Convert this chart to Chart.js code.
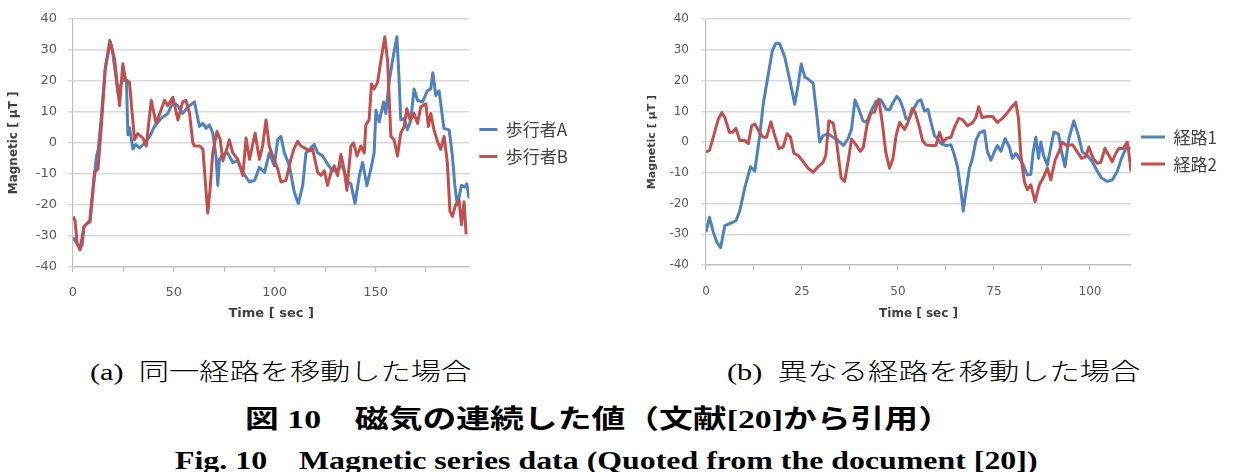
<!DOCTYPE html>
<html>
<head>
<meta charset="utf-8">
<script src="https://cdn.jsdelivr.net/npm/chart.js@4"></script>
<style>
  body { margin: 0; background: #fff; }
  #page { position: relative; width: 1234px; height: 472px; overflow: hidden; background: #fff; }
  canvas { position: absolute; top: 0; }
  #chartA { left: 0; }
  #chartB { left: 600px; }
  .cap { position: absolute; white-space: pre; color: #000; transform-origin: 0 0; transform: scaleX(1.26); }
  .sub { font: 300 24px/24px 'Liberation Serif', 'Noto Sans CJK JP', serif; top: 360px; }
  .ja { font: bold 26px/26px 'Liberation Serif', 'Noto Sans CJK JP', serif; top: 407px; left: 245px; transform: scaleX(1.3); }
  .en { font: bold 25px/25px 'Liberation Serif', serif; top: 448px; left: 175px; transform: scaleX(1.275); }
</style>
</head>
<body>
<div id="page">
  <canvas id="chartA" width="600" height="330"></canvas>
  <canvas id="chartB" width="634" height="330"></canvas>
  <div class="cap sub" style="left:90px">(a)  同一経路を移動した場合</div>
  <div class="cap sub" style="left:727px">(b)  異なる経路を移動した場合</div>
  <div class="cap ja">図 10　磁気の連続した値（文献[20]から引用）</div>
  <div class="cap en">Fig. 10　Magnetic series data (Quoted from the document [20])</div>
</div>
<script>
"use strict";

// (a) same route, two walkers
const walkerATime = [0, 1.5, 3.3, 4.5, 5.5, 7, 8.5, 10, 11.5, 12.5, 14, 16, 18.2, 19.5, 21.5, 22.3, 24.7, 26.5, 27.2, 28,
    29.7, 31, 33, 35, 38, 40.4, 43.7, 47, 49.5, 52, 54.4, 57, 60.2, 62.7, 64.4, 66, 67.6, 69.3, 70.9, 71.8,
    72.6, 74.3, 76.7, 79.2, 81.7, 84.2, 87.5, 90, 92.4, 95, 97.3, 99.8, 101.5, 103.1, 104.8, 107.3, 109.7, 111.7, 113.9, 115.5,
    118, 119.6, 121.3, 123.8, 126.2, 128.7, 131.2, 133.6, 136.1, 137.8, 139.8, 142, 143.6, 145.7, 147.7, 149.3, 150.2, 151.8, 154, 155.1,
    156.8, 158.9, 160.6, 161.7, 162.5, 164.2, 165.8, 167.5, 169.1, 170.8, 173.3, 175.7, 177.4, 178.4, 179.9, 181.5, 183.9, 186.5, 188.1, 189.3,
    190.6, 192.6, 194.2, 195.2, 196.4];
const walkerAValue = [-30.5, -32, -34, -33, -27, -26, -25.5, -15, -5, -2, 8, 24, 33, 30, 20, 16, 20.5, 20, 2.6, 5,
    -2, -0.5, -1.6, -0.5, 2, 5.3, 7.9, 9.5, 13, 12, 9.5, 11.6, 13.2, 5.3, 6.3, 4.7, 5.8, 3.2, -4.2, -13.7,
    -5.3, -3.7, -3.2, -6.3, -5.8, -9.5, -12.6, -12.1, -7.9, -9.5, -3.2, -7.4, 1, 2.1, -3.2, -7.4, -15.8, -19.5, -13.7, -3.2,
    -1.6, -0.5, -3.2, -4.2, -6.8, -9, -8.4, -7.4, -12.6, -13.2, -19.5, -10.5, -6.3, -13.7, -8.4, -3.2, 10.5, 6.8, 13.2, 9.5,
    20, 28.4, 34.2, 20, 7.4, 7.9, 4.2, 7.4, 17.4, 13.7, 13.2, 16.8, 17.4, 22.6, 15.3, 16.8, 4.7, 4.2, -4.2, -13.7,
    -20, -13.7, -14.2, -13.2, -17.9];

const walkerBTime = [0, 1, 2, 3.5, 5.4, 8.3, 10.7, 12.4, 14, 16, 18.5, 20.6, 23.1, 24.7, 26, 28, 30.5, 32, 34.6, 36.3,
    38.8, 41.2, 45.4, 47, 49.5, 52, 54.4, 56, 57.8, 59.4, 60.2, 62.7, 64.4, 65.5, 66.8, 68, 69.3, 71.4, 73, 74.3,
    76.4, 77.5, 79.2, 81.7, 84.2, 85.8, 87.5, 90.3, 92.4, 94, 95.7, 97.3, 99, 101.5, 103.1, 105.6, 108, 109.7, 111.4, 113,
    114.7, 117.2, 118.8, 121.3, 123, 124.6, 126.2, 127.9, 129.5, 131.2, 132.8, 134.4, 135.8, 137.8, 139.1, 140.8, 142.7, 144.4, 145.2, 146.8,
    148, 149.3, 151, 152.6, 154.6, 156, 156.8, 157.6, 159.2, 160.9, 162.5, 164.2, 165.5, 167.2, 169.1, 170.8, 172.4, 174.9, 176.2, 177.4,
    179, 180.7, 182.3, 184, 185.6, 186.9, 188.1, 189.7, 191.4, 192.6, 193.9, 194.9];
const walkerBValue = [-23.7, -25, -32, -34.5, -27, -25, -9.5, -8.4, 5, 24, 32.6, 27, 12, 25.5, 20.5, 19.5, 1, 3, 1.6, -1,
    13.7, 6.3, 13.7, 12, 14.7, 7.4, 13.2, 13.7, 9.5, 0, -1, -1, -2, -11.6, -22.6, -14.7, -3, 3.7, 1, -5.8,
    -1.6, 1, -3.2, -5.3, -10.5, 1.6, -5.3, 3.2, -5.3, -1, 7.4, -1, -4.2, -8.4, -12.6, -12.1, -5.3, -1.6, 0.5, -1,
    -1.6, -2.6, -2, -9.5, -10.5, -9, -13.7, -9.5, -7.4, -10.5, -3.7, -8.4, -15.3, -1, 0, -4.2, -1, -3.2, 5.8, 7.4,
    19, 17.4, 19.5, 26.3, 34.2, 26.3, 13.7, 2.1, 1, -4.2, 3.2, 5.3, 11, 7.4, 9.5, 6.3, 11.6, 12.6, 5.3, 9.5,
    4.2, 0.5, -2.1, 2.1, -6.3, -22.1, -23.7, -20, -18.4, -26.3, -19, -29.5];

// (b) two different routes
const route1Time = [0, 0.9, 1.9, 2.8, 3.8, 4.9, 6.2, 7.8, 8.8, 10.1, 11.6, 12.7, 14, 14.9, 16.2, 17.3, 18.2, 19.2, 20.5, 21.8,
    23.1, 24, 24.8, 25.7, 26.6, 27.9, 28.7, 29.6, 30.5, 31.8, 33.1, 34.4, 35.8, 37, 37.9, 38.8, 39.8, 40.9, 41.8, 43,
    44.3, 45.6, 46.9, 47.8, 48.7, 49.7, 50.5, 51.4, 52.1, 53, 54, 55.2, 56, 56.9, 57.8, 58.6, 59.5, 60.3, 61.2, 62.5,
    63.8, 64.7, 65.5, 66.4, 67, 67.7, 68.6, 69.4, 70.3, 71.2, 72.5, 73.3, 74.2, 75.1, 75.9, 76.8, 77.9, 79, 79.8, 80.7,
    81.6, 82.4, 83.7, 84.6, 85.2, 85.9, 86.6, 87.2, 87.9, 88.9, 89.8, 90.6, 91.8, 92.6, 93.5, 94.5, 95.8, 97, 98, 99.3,
    100.6, 101.9, 103, 104.5, 105.8, 107.1, 108.2, 109.3, 110.6];
const route1Value = [-29.3, -24.5, -29.3, -32.5, -34.4, -27.2, -26.5, -25.6, -22.4, -14.9, -8, -9.4, 2.1, 12.3, 21.9, 29.9, 32.2, 32, 27.7, 20.3,
    12.3, 18.7, 25.4, 21.3, 20.5, 19.2, 10.7, 0, 2.1, 2.7, 1.6, 0.5, -1.1, 1.1, 4.3, 13.7, 10.7, 6.9, 6.4, 10.1,
    13.3, 13.7, 10.7, 10.5, 12.8, 14.9, 13.7, 10.7, 7.5, 7.7, 10.7, 13.3, 13.7, 10.1, 10.7, 6.4, 2.1, 1.1, -0.5, -1.1,
    -0.9, -4.3, -8, -16, -22.4, -16, -8.5, -5.3, 0.5, 3, 3.7, -3.2, -5.9, -3.2, -1.1, -3, 1.1, -1.6, -5.3, -3.7,
    -5.3, -6.9, -10.7, -10.5, -3.2, 1.6, -5.3, 0, -4.3, -7.5, -1.6, 3.2, 2.7, -3.2, -8, 1.1, 6.9, 2.1, -3.2, -4.3,
    -6.4, -9.4, -11.7, -12.8, -12.3, -9.6, -5.3, -2.1, -1.9];

const route2Time = [0, 0.9, 1.9, 3.2, 4.1, 4.9, 6.1, 6.9, 7.8, 8.8, 10.1, 11, 11.9, 12.7, 14, 14.9, 15.8, 16.9, 17.9, 19,
    20.1, 21.1, 22, 22.9, 24, 25.3, 26.6, 27.9, 29.2, 30.5, 31.2, 32, 33.1, 33.9, 35.2, 36.1, 37, 37.9, 39.1, 40.2,
    41, 41.9, 43, 43.9, 45, 45.9, 46.8, 47.8, 48.7, 49.5, 50.4, 51.7, 52.6, 53.7, 54.5, 55.6, 56.4, 57.3, 58.6, 59.9,
    60.8, 61.7, 62.7, 63.8, 64.7, 65.8, 66.8, 68.1, 69.3, 70.3, 71, 71.9, 73.3, 74.6, 75.9, 77.2, 78.5, 79.8, 80.7, 81.4,
    82, 82.9, 83.7, 84.6, 85.7, 86.8, 87.8, 88.9, 89.8, 90.9, 91.9, 92.8, 93.9, 95.5, 96.7, 97.8, 98.9, 99.7, 100.8, 101.9,
    102.8, 103.9, 104.9, 105.8, 106.7, 107.5, 108.6, 109.7, 110.1, 110.7];
const route2Value = [-3.2, -2.7, 1.6, 7.5, 9.6, 8, 3.2, 3.2, 4.5, 0.5, 0.5, -0.5, 5.3, 5.9, 3, 1.6, 1.6, 6.6, 2.1, -2.1,
    -1.6, 2.7, 1.6, -3.7, -4.3, -6.4, -8.5, -9.8, -8, -6.6, -4.3, 6.9, 6.2, 1.1, -11.7, -12.8, -6.4, 0.9, -0.9, -3,
    -1.6, 5.3, 9.6, 9.8, 13.9, 6.4, -3.2, -8.5, -5.3, 2.1, 6.4, 4.1, 6.4, 10.9, 9.6, 4.8, 0.5, -0.9, -1.1, -1.1,
    3.2, 0, 1.3, 1.6, 4.8, 7.7, 7.3, 5.3, 6.2, 8, 11.5, 8, 8.3, 8.3, 6.4, 7.7, 9.6, 11.7, 13, 7.5,
    -4.3, -12.8, -15.5, -13.9, -19.4, -13.9, -11.7, -8.5, -12.3, -5.9, -3.2, 0, -1.1, -0.9, -3.2, -5.3, -4.8, -1.6, -5.3, -6.9,
    -6.6, -2.1, -4.3, -6.4, -3.7, -2.1, -2.1, 0, -3.2, -9.6];

const labelsA = ['歩行者A', '歩行者B'];
const labelsB = ['経路1', '経路2'];

const BLUE = '#4F81BD';
const RED = '#C0504D';
const tickColor = '#595959';

Chart.defaults.font.family = "'DejaVu Sans', sans-serif";
Chart.defaults.animation = false;

const pts = (xs, ys) => xs.map((x, i) => ({x: x, y: ys[i]}));

function line(label, xs, ys, color, order) {
    return {
        label: label,
        data: pts(xs, ys),
        borderColor: color,
        backgroundColor: color,
        borderWidth: 3,
        pointRadius: 0,
        tension: 0,
        borderJoinStyle: 'round',
        order: order
    };
}

function magneticChart(id, datasets, o) {
    return new Chart(document.getElementById(id), {
        type: 'line',
        data: { datasets: datasets },
        options: {
            responsive: false,
            devicePixelRatio: 1,
            events: [],
            layout: { padding: { top: o.top, left: o.left, right: o.right, bottom: 0 } },
            plugins: {
                tooltip: { enabled: false },
                legend: {
                    position: 'right',
                    fullSize: false,
                    // empty title only nudges the entries down a little
                    title: { display: o.legendShift > 0, text: '', font: { size: 10 }, padding: (o.legendShift - 12) / 2 },
                    labels: {
                        usePointStyle: true,
                        pointStyle: 'line',
                        pointStyleWidth: o.sampleWidth,
                        padding: 10,
                        color: '#404040',
                        font: { family: "'Noto Sans CJK JP', sans-serif", size: 17 },
                        sort: (a, b) => a.datasetIndex - b.datasetIndex
                    }
                }
            },
            scales: {
                x: {
                    type: 'linear',
                    min: 0,
                    max: o.xMax,
                    ticks: {
                        stepSize: o.xStep,
                        includeBounds: false,
                        autoSkip: false,
                        maxRotation: 0,
                        color: tickColor,
                        padding: o.xPad,
                        font: { size: o.tickSize },
                        callback: v => (v % o.xLabelEvery === 0 ? String(v) : '')
                    },
                    grid: { drawOnChartArea: false, tickLength: 5, color: '#bfbfbf', lineWidth: 1.2 },
                    border: { color: '#bfbfbf', width: 1.2 },
                    title: {
                        display: true,
                        text: 'Time [ sec ]',
                        color: '#404040',
                        font: { size: o.xTitleSize, weight: 'bold' },
                        padding: { bottom: 9 }
                    },
                    afterFit: s => { s.height = o.xHeight; }
                },
                y: {
                    min: -40,
                    max: 40,
                    ticks: { stepSize: 10, color: tickColor, padding: o.yPad, font: { size: o.tickSize } },
                    grid: { color: '#d9d9d9', lineWidth: 1.5, tickLength: 5 },
                    border: { color: '#bfbfbf', width: 1.2 },
                    title: {
                        display: true,
                        text: 'Magnetic [ μT ]',
                        color: '#404040',
                        font: { size: o.yTitleSize, weight: 'bold' },
                        padding: { top: o.yTitlePad }
                    },
                    afterFit: s => { s.width = o.yWidth; }
                }
            }
        }
    });
}

magneticChart('chartA', [
    line(labelsA[0], walkerATime, walkerAValue, BLUE, 1),
    line(labelsA[1], walkerBTime, walkerBValue, RED, 0)
], {
    top: 14, left: 0, right: 22, xMax: 196.5, xStep: 25, xLabelEvery: 50,
    xHeight: 63, yWidth: 73, xPad: 13, yPad: 11, tickSize: 13,
    xTitleSize: 13, yTitleSize: 12, yTitlePad: 7, sampleWidth: 18, legendShift: 0
});

magneticChart('chartB', [
    line(labelsB[0], route1Time, route1Value, BLUE, 1),
    line(labelsB[1], route2Time, route2Value, RED, 0)
], {
    top: 15, left: 40, right: 7, xMax: 110.7, xStep: 12.5, xLabelEvery: 25,
    xHeight: 65, yWidth: 66, xPad: 15, yPad: 12, tickSize: 12,
    xTitleSize: 12, yTitleSize: 11, yTitlePad: 6, sampleWidth: 24, legendShift: 17
});
</script>
</body>
</html>
